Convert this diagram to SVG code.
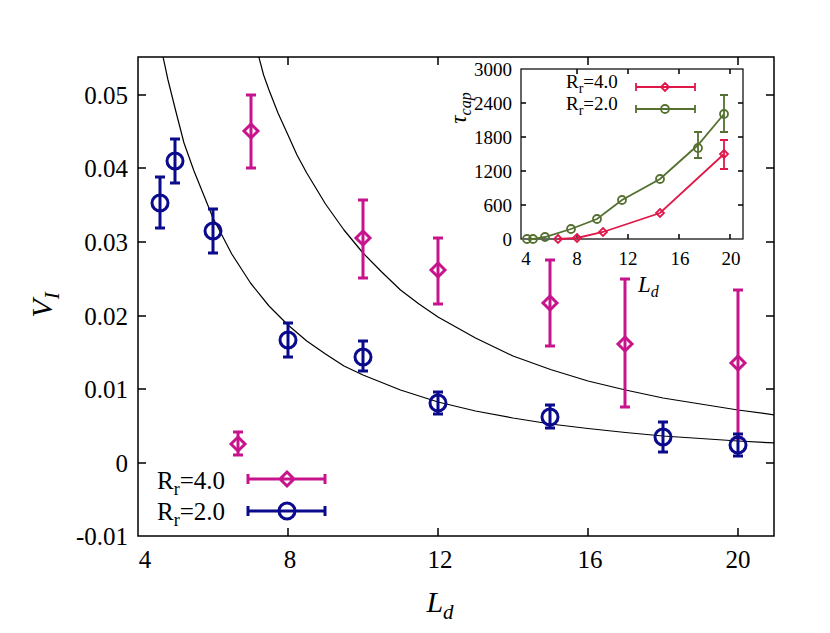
<svg xmlns="http://www.w3.org/2000/svg" width="830" height="633" viewBox="0 0 830 633" font-family="'Liberation Serif', 'DejaVu Serif', serif">
<style>
text{font-family:'Liberation Serif','Times New Roman','DejaVu Serif',serif;fill:#000}
.t{font-size:25px}
.s{font-size:19px}
.ax{fill:none;stroke:#000;stroke-width:1.5}
.m{stroke:#c8148c;stroke-width:3;fill:none}
.b{stroke:#0a0a8c;stroke-width:3;fill:none}
.r{stroke:#e0184a;stroke-width:1.8;fill:none}
.g{stroke:#557030;stroke-width:1.8;fill:none}
.c{fill:none;stroke:#000;stroke-width:1.2;stroke-linejoin:round}
</style>
<defs><clipPath id="cp"><rect x="138" y="57" width="636" height="479"/></clipPath></defs>
<rect width="830" height="633" fill="#fff"/>
<g id="main-axes">
<rect class="ax" x="138" y="57" width="636" height="479"/>
<path class="ax" d="M138 95h8M138 168h8M138 242h8M138 316h8M138 389h8M138 463h8M774 95h-8M774 168h-8M774 242h-8M774 316h-8M774 389h-8M774 463h-8M288 536v-8M438 536v-8M588 536v-8M738 536v-8M288 57v8M438 57v8M588 57v8M738 57v8"/>
<g class="t" text-anchor="end">
<text x="128" y="104">0.05</text><text x="128" y="177">0.04</text><text x="128" y="251">0.03</text><text x="128" y="325">0.02</text><text x="128" y="398">0.01</text><text x="128" y="472">0</text><text x="128" y="545">-0.01</text>
</g>
<g class="t" text-anchor="middle">
<text x="145" y="568">4</text><text x="290" y="568">8</text><text x="440" y="568">12</text><text x="590" y="568">16</text><text x="738" y="568">20</text>
</g>
<text x="440" y="612" font-size="30" font-style="italic" text-anchor="middle">L<tspan font-size="21" dy="7">d</tspan></text>
<text transform="translate(52,305) rotate(-90)" font-size="30" font-style="italic" text-anchor="middle">V<tspan font-size="21" dy="7">I</tspan></text>
</g>
<g id="curves" clip-path="url(#cp)">
<polyline class="c" points="162,52 168,80 175.5,110 184,143 194,171 213,218 231.75,254 250.5,283 269,306 288,325 306.75,341 325.5,354 344,366 363,375 400.5,390 438,402 475.5,411 513,418 550.5,424 588,428.5 625.5,432.5 663,436 700.5,438.5 738,441 775.5,443"/>
<polyline class="c" points="257,50 263.6,75 269,90 278,113 288,135 297,155 306.75,173 325.5,204 344,230 363,253 381.75,272 400.5,290 419,304 438,317 475.5,338 513,356 550.5,369.5 588,381 625.5,390 663,398 700.5,404 738,410 775.5,415"/>
</g>
<g id="series-rr4">
<path class="m" d="M238 432v23M233 432h10M233 455h10M251 95v73M246 95h10M246 168h10M363 200v78M358 200h10M358 278h10M438 238v66M433 238h10M433 304h10M550 260v86M545 260h10M545 346h10M625 279v128M620 279h10M620 407h10M738 290v148M733 290h10M733 438h10"/>
<path class="m" d="M238 437l7 7-7 7-7-7zM251 124l7 7-7 7-7-7zM363 231l7 7-7 7-7-7zM438 263l7 7-7 7-7-7zM550 296l7 7-7 7-7-7zM625 337l7 7-7 7-7-7zM738 356l7 7-7 7-7-7z"/>
</g>
<g id="series-rr2">
<path class="b" d="M160 177v51M155 177h10M155 228h10M175 139v44M170 139h10M170 183h10M213 209v44M208 209h10M208 253h10M288 323v34M283 323h10M283 357h10M363 341v30M358 341h10M358 371h10M438 392v22M433 392h10M433 414h10M550 405v23M545 405h10M545 428h10M663 422v30M658 422h10M658 452h10M738 434v22M733 434h10M733 456h10"/>
<g class="b"><circle cx="160" cy="203" r="8"/><circle cx="175" cy="161" r="8"/><circle cx="213" cy="231" r="8"/><circle cx="288" cy="340" r="8"/><circle cx="363" cy="357" r="8"/><circle cx="438" cy="403" r="8"/><circle cx="550" cy="417" r="8"/><circle cx="663" cy="437" r="8"/><circle cx="738" cy="445" r="8"/></g>
</g>
<g id="legend-main">
<text class="t" x="157" y="489">R<tspan font-size="18" dy="6">r</tspan><tspan dy="-6">=4.0</tspan></text>
<text class="t" x="157" y="520">R<tspan font-size="18" dy="6">r</tspan><tspan dy="-6">=2.0</tspan></text>
<path class="m" d="M248 479h77M248 474v10M325 474v10M287 472l7 7-7 7-7-7z"/>
<path class="b" d="M248 511h77M248 506v10M325 506v10"/><circle class="b" cx="287" cy="511" r="8"/>
</g>
<g id="inset">
<rect x="521" y="69" width="222" height="170" fill="#fff" stroke="#000" stroke-width="1.2"/>
<path class="ax" stroke-width="1" d="M521 103h5M521 137h5M521 171h5M521 205h5M743 103h-5M743 137h-5M743 171h-5M743 205h-5M577 239v-5M628 239v-5M679 239v-5M730 239v-5M577 69v5M628 69v5M679 69v5M730 69v5"/>
<g class="s" text-anchor="end">
<text x="512" y="76">3000</text><text x="512" y="110">2400</text><text x="512" y="144">1800</text><text x="512" y="178">1200</text><text x="512" y="212">600</text><text x="512" y="246">0</text>
</g>
<g class="s" text-anchor="middle">
<text x="526" y="265">4</text><text x="577" y="265">8</text><text x="628" y="265">12</text><text x="680" y="265">16</text><text x="731" y="265">20</text>
</g>
<text x="638" y="292" font-size="23" font-style="italic">L<tspan font-size="16" dy="5">d</tspan></text>
<text transform="translate(466,108) rotate(-90)" font-size="23" font-style="italic" text-anchor="middle">τ<tspan font-size="16" dy="5">cap</tspan></text>
<path class="g" d="M527 239L533 239L545 237L571 229L597 219L622 200L660 179L698 145L724 114M698 132v26M694 132h8M694 158h8M724 95v37M720 95h8M720 132h8"/>
<g class="g"><circle cx="527" cy="239" r="4"/><circle cx="533" cy="239" r="4"/><circle cx="545" cy="237" r="4"/><circle cx="571" cy="229" r="4"/><circle cx="597" cy="219" r="4"/><circle cx="622" cy="200" r="4"/><circle cx="660" cy="179" r="4"/><circle cx="698" cy="148" r="4"/><circle cx="724" cy="114" r="4"/></g>
<path class="r" d="M558 239L577 238L603 232L660 213L724 154M724 140v29M720 140h8M720 169h8"/>
<path class="r" d="M558 235l4 4-4 4-4-4zM577 234l4 4-4 4-4-4zM603 228l4 4-4 4-4-4zM660 209l4 4-4 4-4-4zM724 150l4 4-4 4-4-4z"/>
<text class="s" x="566" y="88">R<tspan font-size="14" dy="5">r</tspan><tspan dy="-5">=4.0</tspan></text>
<text class="s" x="566" y="110">R<tspan font-size="14" dy="5">r</tspan><tspan dy="-5">=2.0</tspan></text>
<path class="r" d="M636 87h59M636 83v8M695 83v8M665 83l4 4-4 4-4-4z"/>
<path class="g" d="M636 109h59M636 105v8M695 105v8"/><circle class="g" cx="665" cy="109" r="4"/>
</g>
</svg>
